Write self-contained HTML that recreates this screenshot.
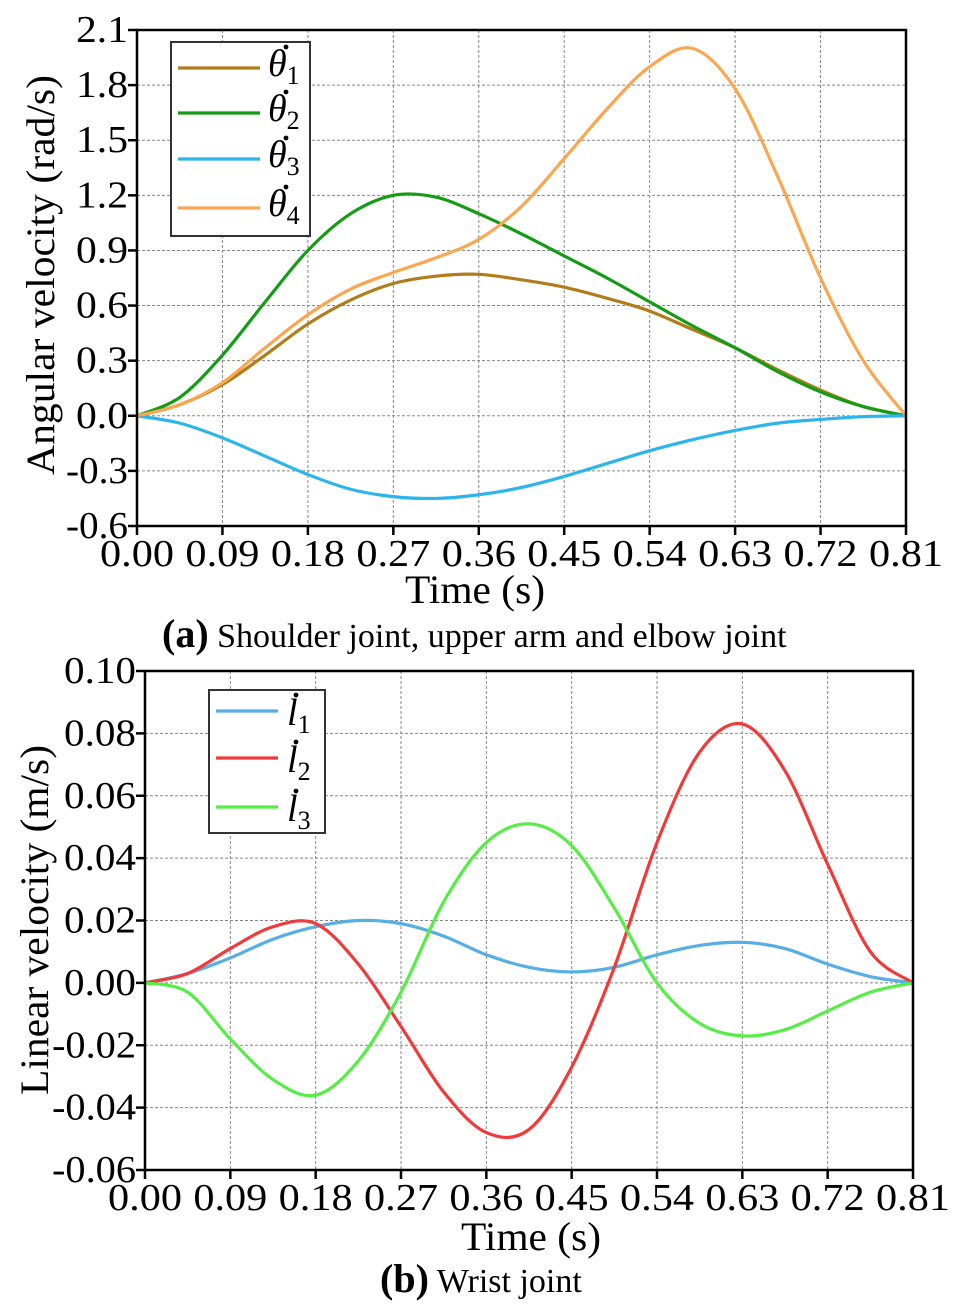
<!DOCTYPE html>
<html><head><meta charset="utf-8"><style>
html,body{margin:0;padding:0;background:#fff;}
svg{display:block;font-family:"Liberation Serif",serif;}
</style></head><body>
<svg id="c" width="967" height="1312" viewBox="0 0 967 1312" xmlns="http://www.w3.org/2000/svg"></svg>
<script>
const times = [0,.045,.09,.135,.18,.225,.27,.315,.36,.405,.45,.495,.54,.585,.63,.675,.72,.765,.81];
const xTicks = ["0.00","0.09","0.18","0.27","0.36","0.45","0.54","0.63","0.72","0.81"];
const xTickVals = [0,.09,.18,.27,.36,.45,.54,.63,.72,.81];
const topYTicks = ["-0.6","-0.3","0.0","0.3","0.6","0.9","1.2","1.5","1.8","2.1"];
const topYVals = [-0.6,-0.3,0,0.3,0.6,0.9,1.2,1.5,1.8,2.1];
const theta1 = [0,.06,.17,.33,.50,.63,.72,.76,.77,.74,.70,.64,.57,.47,.37,.25,.14,.05,0];
const theta2 = [0,.10,.33,.62,.90,1.10,1.20,1.19,1.10,.99,.87,.75,.62,.49,.37,.24,.13,.05,0];
const theta3 = [0,-.04,-.12,-.22,-.32,-.40,-.44,-.45,-.43,-.39,-.33,-.26,-.19,-.13,-.08,-.04,-.02,-.005,0];
const theta4 = [0,.06,.18,.37,.55,.69,.78,.86,.96,1.14,1.40,1.67,1.90,2.00,1.78,1.30,.75,.30,0];
const botYTicks = ["-0.06","-0.04","-0.02","0.00","0.02","0.04","0.06","0.08","0.10"];
const botYVals = [-0.06,-0.04,-0.02,0,0.02,0.04,0.06,0.08,0.10];
const l1 = [0,.003,.008,.014,.018,.020,.019,.015,.009,.005,.0035,.005,.009,.012,.013,.011,.006,.002,0];
const l2 = [0,.003,.011,.018,.019,.006,-.014,-.035,-.048,-.047,-.027,.005,.045,.074,.083,.068,.038,.010,0];
const l3 = [0,-.003,-.018,-.031,-.036,-.025,-.003,.026,.045,.051,.044,.024,.000,-.013,-.017,-.015,-.009,-.003,0];

const NS="http://www.w3.org/2000/svg";
const svg=document.getElementById('c');
function mk(tag,attrs,parent){const e=document.createElementNS(NS,tag);for(const k in attrs)e.setAttribute(k,attrs[k]);(parent||svg).appendChild(e);return e;}
function smooth(pts){let d=`M${pts[0][0]},${pts[0][1]}`;for(let i=0;i<pts.length-1;i++){const p0=pts[i-1]||pts[i],p1=pts[i],p2=pts[i+1],p3=pts[i+2]||p2;const c1x=p1[0]+(p2[0]-p0[0])/6,c1y=p1[1]+(p2[1]-p0[1])/6,c2x=p2[0]-(p3[0]-p1[0])/6,c2y=p2[1]-(p3[1]-p1[1])/6;d+=` C${c1x},${c1y} ${c2x},${c2y} ${p2[0]},${p2[1]}`;}return d;}

function chart(cfg){
  const {x0,x1,yTop,yBot,yMin,yMax,yTicks,yVals,series,name}=cfg;
  const xs=t=>x0+t/0.81*(x1-x0);
  const ys=v=>yBot-(v-yMin)/(yMax-yMin)*(yBot-yTop);
  const g=mk('g',{});
  
  
  xTickVals.forEach((t,i)=>{
    if(i>0&&i<xTickVals.length-1){const l=mk('line',{x1:xs(t),x2:xs(t),y1:yTop,y2:yBot,stroke:'#888','stroke-width':1,'stroke-dasharray':'3,2'},g);}
    const tk=mk('line',{x1:xs(t),x2:xs(t),y1:yBot,y2:yBot+9,stroke:'#000','stroke-width':2.5},g);
    
    const tx=mk('text',{x:xs(t),y:yBot+40,'font-size':38,'text-anchor':'middle',textLength:74,lengthAdjust:'spacingAndGlyphs'},g);
    tx.textContent=xTicks[i];
    
  });
  yVals.forEach((v,i)=>{
    if(i>0&&i<yVals.length-1){const l=mk('line',{x1:x0,x2:x1,y1:ys(v),y2:ys(v),stroke:'#888','stroke-width':1,'stroke-dasharray':'3,2'},g);}
    const tk=mk('line',{x1:x0-9,x2:x0,y1:ys(v),y2:ys(v),stroke:'#000','stroke-width':2.5},g);
    
    const tx=mk('text',{x:x0-9,y:ys(v)+12,'font-size':38,'text-anchor':'end',textLength:cfg.ylw(yTicks[i]),lengthAdjust:'spacingAndGlyphs'},g);
    tx.textContent=yTicks[i];
    
  });
  series.forEach(s=>{
    const p=mk('path',{d:smooth(times.map((t,i)=>[xs(t),ys(s.data[i])])),fill:'none',stroke:s.color,'stroke-width':3.2},g);
    
  });
  const fr=mk('rect',{x:x0,y:yTop,width:x1-x0,height:yBot-yTop,fill:'none',stroke:'#000','stroke-width':2.5},g);
  
}
chart({name:'chart-a',x0:137,x1:906,yTop:30,yBot:526,yMin:-0.6,yMax:2.1,yTicks:topYTicks,yVals:topYVals,
  ylw:s=>s.length===4?62:52,
  series:[{name:'theta1-line',data:theta1,color:'#b07d1a'},{name:'theta2-line',data:theta2,color:'#159c15'},{name:'theta3-line',data:theta3,color:'#2bb5ec'},{name:'theta4-line',data:theta4,color:'#fca650'}]});
chart({name:'chart-b',x0:145,x1:913,yTop:671,yBot:1170,yMin:-0.06,yMax:0.10,yTicks:botYTicks,yVals:botYVals,
  ylw:s=>s.length===5?84:72,
  series:[{name:'l1-line',data:l1,color:'#55aee6'},{name:'l2-line',data:l2,color:'#f23a3a'},{name:'l3-line',data:l3,color:'#55ee44'}]});
</script>
<svg style="position:absolute;left:0;top:0" width="967" height="1312" xmlns="http://www.w3.org/2000/svg" font-family="Liberation Serif, serif">
  <g>
    <rect x="171" y="42" width="139" height="194" fill="#fff" stroke="#333" stroke-width="2"/>
    <line x1="178" x2="260" y1="68" y2="68" stroke="#b07d1a" stroke-width="3.2"/>
    <line x1="178" x2="260" y1="113" y2="113" stroke="#159c15" stroke-width="3.2"/>
    <line x1="178" x2="260" y1="159" y2="159" stroke="#2bb5ec" stroke-width="3.2"/>
    <line x1="178" x2="260" y1="208" y2="208" stroke="#fca650" stroke-width="3.2"/>
    <text x="268" y="76" font-size="38" font-style="italic">θ<tspan font-size="26" font-style="normal" dy="8">1</tspan></text>
    <text x="268" y="121" font-size="38" font-style="italic">θ<tspan font-size="26" font-style="normal" dy="8">2</tspan></text>
    <text x="268" y="167" font-size="38" font-style="italic">θ<tspan font-size="26" font-style="normal" dy="8">3</tspan></text>
    <text x="268" y="216" font-size="38" font-style="italic">θ<tspan font-size="26" font-style="normal" dy="8">4</tspan></text>
    <circle cx="286" cy="47" r="2.4" fill="#000"/>
    <circle cx="286" cy="92" r="2.4" fill="#000"/>
    <circle cx="286" cy="138" r="2.4" fill="#000"/>
    <circle cx="286" cy="187" r="2.4" fill="#000"/>
  </g>
  <g>
    <rect x="209" y="690" width="116" height="143" fill="#fff" stroke="#333" stroke-width="2"/>
    <line x1="216" x2="278" y1="711" y2="711" stroke="#55aee6" stroke-width="3.2"/>
    <line x1="216" x2="278" y1="758" y2="758" stroke="#f23a3a" stroke-width="3.2"/>
    <line x1="216" x2="278" y1="807" y2="807" stroke="#55ee44" stroke-width="3.2"/>
    <text x="287" y="725" font-size="38" font-style="italic">l<tspan font-size="26" font-style="normal" dy="8">1</tspan></text>
    <text x="287" y="772" font-size="38" font-style="italic">l<tspan font-size="26" font-style="normal" dy="8">2</tspan></text>
    <text x="287" y="821" font-size="38" font-style="italic">l<tspan font-size="26" font-style="normal" dy="8">3</tspan></text>
    <circle cx="296" cy="695" r="2.4" fill="#000"/>
    <circle cx="296" cy="742" r="2.4" fill="#000"/>
    <circle cx="296" cy="791" r="2.4" fill="#000"/>
  </g>
  <text x="475" y="603" font-size="40" text-anchor="middle" textLength="140" lengthAdjust="spacingAndGlyphs">Time (s)</text>
  <text transform="translate(54,275) rotate(-90)" font-size="40" text-anchor="middle" textLength="400" lengthAdjust="spacingAndGlyphs">Angular velocity (rad/s)</text>
  <text x="162" y="647" font-size="34"><tspan font-weight="bold" font-size="40">(a)</tspan> Shoulder joint, upper arm and elbow joint</text>
  <text x="531" y="1250" font-size="40" text-anchor="middle" textLength="140" lengthAdjust="spacingAndGlyphs">Time (s)</text>
  <text transform="translate(48,920) rotate(-90)" font-size="40" text-anchor="middle" textLength="350" lengthAdjust="spacingAndGlyphs">Linear velocity (m/s)</text>
  <text x="380" y="1292" font-size="34"><tspan font-weight="bold" font-size="40">(b)</tspan> Wrist joint</text>
</svg>
</body></html>
